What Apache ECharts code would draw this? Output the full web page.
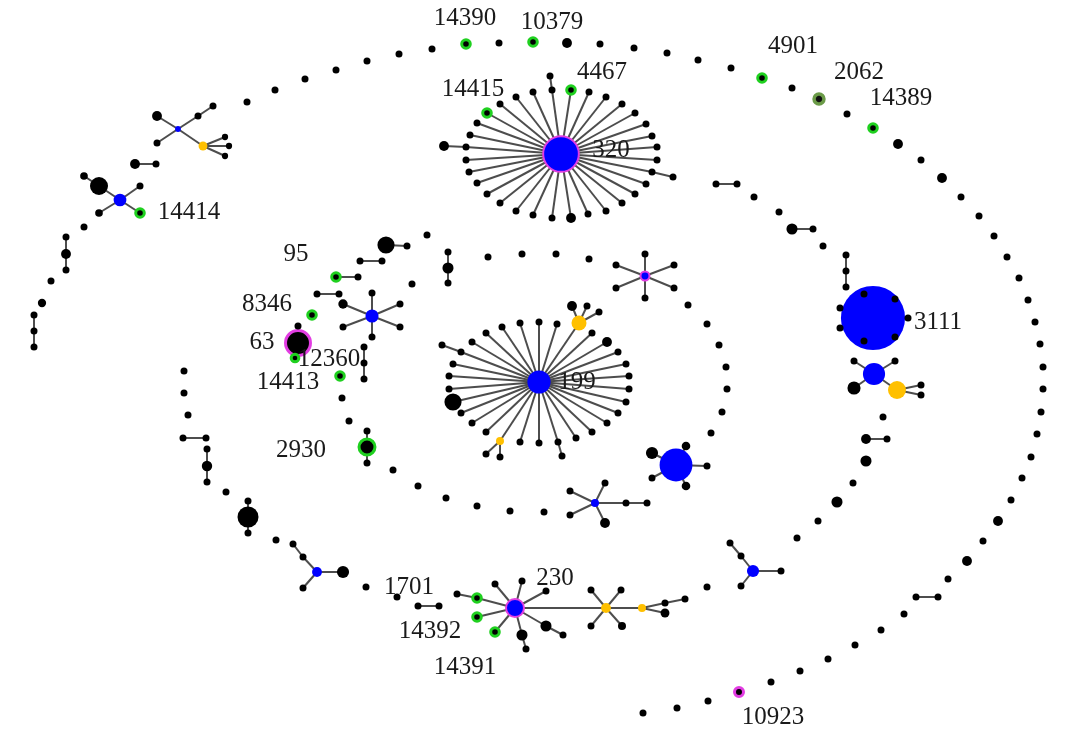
<!DOCTYPE html>
<html><head><meta charset="utf-8">
<script src="https://cdn.jsdelivr.net/npm/echarts@6/dist/echarts.min.js"></script>
<style>html,body{margin:0;padding:0;background:#fff}#c{width:1086px;height:730px}</style>
</head><body><div id="c"></div>
<script>
// Nodes: [id, x, y, weight, kind]  (kind: n=black, b=blue, y=yellow, g=green ring, o=olive ring, m=magenta ring, bm=blue+magenta ring)
const outerNodes = [
['o1',399,54,1,'n'],['o2',367,61,1,'n'],['o3',336,70,1,'n'],['o4',305,79,1,'n'],['o5',275,90,1,'n'],['o6',247,102,1,'n'],
['s1c',178,129,0.7,'b'],['s1a',157,116,2,'n'],['s1b',198,116,1,'n'],['s1b2',213,106,1,'n'],['s1d',157,143,1,'n'],['s1y',203,146,1.6,'y'],['s1e',225,137,0.8,'n'],['s1f',229,146,0.8,'n'],['s1g',225,156,0.8,'n'],
['p1a',135,164,2,'n'],['p1b',156,164,1,'n'],
['c1s',84,176,1.2,'n'],['c1k',99,186,6.6,'n'],['c1u',120,200,3.3,'b'],['c1a',140,186,1,'n'],['c1b',99,213,1.2,'n'],['n14414',140,213,1.5,'g'],
['o7',84,227,1,'n'],['q1',66,237,1,'n'],['q2',66,254,2,'n'],['q3',66,270,1,'n'],['o8',51,281,1,'n'],['o9',42,303,1.4,'n'],['q4',34,315,1,'n'],['q5',34,331,1,'n'],['q6',34,347,1,'n'],
['t1',432,49,1,'n'],['n14390',466,44,1.5,'g'],['t3',499,43,1,'n'],['n10379',533,42,1.5,'g'],['t5',567,43,2,'n'],['t6',600,44,1,'n'],['t7',634,48,1,'n'],['t8',667,53,1,'n'],['t9',698,60,1,'n'],['t10',731,68,1,'n'],['n4901',762,78,1.5,'g'],['t12',792,88,1,'n'],['n2062',819,99,2,'o'],['t14',847,114,1,'n'],['n14389',873,128,1.5,'g'],['t16',898,144,2,'n'],['t17',921,160,1,'n'],['t18',942,178,2,'n'],['t19',961,197,1,'n'],['t20',979,216,1,'n'],['t21',994,236,1,'n'],['t22',1007,257,1,'n'],['t23',1019,278,1,'n'],['t24',1028,300,1,'n'],['t25',1035,322,1,'n'],['t26',1040,344,1,'n'],['t27',1043,367,1,'n'],['t28',1043,389,1,'n'],['t29',1041,412,1,'n'],['t30',1037,434,1,'n'],['t31',1031,457,1,'n'],['t32',1022,478,1,'n'],['t33',1011,500,1,'n'],['t34',998,521,2,'n'],['t35',983,541,1,'n'],['t36',967,561,2,'n'],['t37',948,579,1,'n'],['t38',938,597,1,'n'],['t39',916,597,1,'n'],['t40',904,614,1,'n'],['t41',881,630,1,'n'],['t42',855,645,1,'n'],['t43',828,659,1,'n'],['t44',800,671,1,'n'],['t45',771,682,1,'n'],['n10923',739,692,1.65,'m'],['t47',708,701,1,'n'],['t48',677,708,1,'n'],['t49',643,713,1,'n']
];
const hub320Nodes = [
['h320',561,154,26,'bm'],
['a1',552,90,1,'n'],['a1b',550,76,1,'n'],['n4467',571,90,1.5,'g'],['a3',589,92,1,'n'],['a4',606,97,1,'n'],['a5',622,104,1,'n'],['a6',635,113,1,'n'],['a7',646,124,1,'n'],['a8',652,136,1,'n'],['a9',657,147,1,'n'],['a10',657,160,1,'n'],['a11',652,172,1,'n'],['a11b',673,177,1,'n'],['a12',646,184,1,'n'],['a13',635,194,1,'n'],['a14',622,203,1,'n'],['a15',606,211,1,'n'],['a16',588,214,1,'n'],['a17',571,218,2,'n'],['a18',552,218,1,'n'],['a19',533,215,1,'n'],['a20',516,211,1,'n'],['a21',500,203,1,'n'],['a22',487,194,1,'n'],['a23',477,183,1,'n'],['a24',469,172,1,'n'],['a25',466,160,1,'n'],['a26',466,147,1,'n'],['a26b',444,146,2,'n'],['a27',470,135,1,'n'],['a28',477,123,1,'n'],['n14415',487,113,1.5,'g'],['a30',500,104,1,'n'],['a31',516,97,1,'n'],['a32',533,92,1,'n']
];
const midNodes = [
['r1',427,235,1,'n'],['r2',386,245,6,'n'],['r3',407,246,1,'n'],['r4',360,261,1,'n'],['r5',382,261,1,'n'],['n95',336,277,1.5,'g'],['r6',358,277,1,'n'],['r7',317,294,1,'n'],['r8',339,294,1,'n'],['n8346',312,315,1.5,'g'],
['s2c',372,316,3.5,'b'],['s2a',343,304,1.8,'n'],['s2b',372,293,1,'n'],['s2d',343,327,1,'n'],['s2e',372,337,1,'n'],['s2f',400,304,1,'n'],['s2g',400,327,1,'n'],
['n63',298,343,12.7,'m'],['r9',298,326,1,'n'],['n12360',295,358,1.2,'g'],
['r10',364,347,1,'n'],['r11',364,363,1,'n'],['r12',364,379,1,'n'],
['n14413',340,376,1.5,'g'],['r13',342,398,1,'n'],['r14',349,421,1,'n'],
['n2930',367,447,5.2,'g'],['r15',367,431,1,'n'],['r16',367,463,1,'n'],['r17',393,470,1,'n'],
['l1',184,371,1,'n'],['l2',184,393,1,'n'],['l3',188,415,1,'n'],['l4',183,438,1,'n'],['l5',206,438,1,'n'],['l6',207,449,1,'n'],['l7',207,466,2.2,'n'],['l8',207,482,1,'n'],['l9',226,492,1,'n'],['l10',248,501,1,'n'],['l11',248,517,9,'n'],['l12',248,533,1,'n'],['l13',276,540,1,'n'],['l14',293,544,1,'n'],['l15',303,557,1,'n'],['l16',317,572,2,'b'],['l17',303,588,1,'n'],['l18',343,572,3,'n'],['l19',366,587,1,'n'],['l20',397,597,1,'n'],['n1701',418,606,1,'n'],['l22',439,606,1,'n'],
['h230',515,608,6.6,'bm'],['e1',495,584,1,'n'],['e2',522,581,1,'n'],['e3',546,591,1,'n'],['e4',477,598,1.5,'g'],['e5',457,594,1,'n'],['n14392',477,617,1.5,'g'],['n14391',495,632,1.5,'g'],['e8',522,635,2.5,'n'],['e9',526,649,1,'n'],['e10',546,626,2.5,'n'],['e11',563,635,1,'n'],
['y2',606,608,2,'y'],['f1',591,590,1,'n'],['f2',621,590,1,'n'],['f3',591,626,1,'n'],['f4',622,626,1.3,'n'],['y3',642,608,1.3,'y'],['f5',665,603,1,'n'],['f6',685,599,1,'n'],['f7',665,613,1.6,'n'],
['m1',707,587,1,'n'],['u1',753,571,3,'b'],['u2',730,543,1,'n'],['u3',741,556,1,'n'],['u4',741,586,1,'n'],['u5',781,571,1,'n'],
['m2',797,538,1,'n'],['m3',818,521,1,'n'],['m4',837,502,2.5,'n'],['m5',853,483,1,'n'],['m6',866,461,2.5,'n'],['m7',866,439,2,'n'],['m8',887,439,1,'n'],['m9',883,417,1,'n'],
['v1',874,374,10,'b'],['v2',854,361,1,'n'],['v3',895,361,1,'n'],['v4',854,388,3.5,'n'],['v5',897,390,6.6,'y'],['v6',921,385,1,'n'],['v7',921,395,1,'n'],
['n3111',873,318,84,'b'],['w1',864,294,1,'n'],['w2',895,299,1,'n'],['w3',840,308,1,'n'],['w4',908,318,1,'n'],['w5',840,328,1,'n'],['w6',864,341,1,'n'],['w7',895,337,1,'n'],
['k1',846,255,1,'n'],['k2',846,271,1,'n'],['k3',846,287,1,'n'],['k4',823,246,1,'n'],['k5',792,229,2.5,'n'],['k6',813,229,1,'n'],['k7',779,212,1,'n'],['k8',754,197,1,'n'],['k9',716,184,1,'n'],['k10',737,184,1,'n']
];
const innerNodes = [
['i1',448,252,1,'n'],['i2',448,268,2.5,'n'],['i3',448,283,1,'n'],['i4',412,284,1,'n'],['i5',488,257,1,'n'],['i6',522,254,1,'n'],['i7',556,254,1,'n'],['i8',589,259,1,'n'],
['s3c',645,276,1.65,'bm'],['s3a',645,254,1,'n'],['s3b',674,265,1,'n'],['s3d',674,288,1,'n'],['s3e',645,298,1,'n'],['s3f',616,288,1,'n'],['s3g',616,265,1,'n'],
['i9',688,305,1,'n'],['i10',707,324,1,'n'],['i11',719,345,1,'n'],['i12',726,367,1,'n'],['i13',727,389,1,'n'],['i14',722,412,1,'n'],['i15',711,433,1,'n'],
['b4',676,465,22,'b'],['b4a',652,453,3,'n'],['b4b',686,446,1.5,'n'],['b4c',707,466,1,'n'],['b4d',652,478,1,'n'],['b4e',686,486,1.5,'n'],
['s4c',595,503,1.3,'b'],['s4a',570,491,1,'n'],['s4b',605,483,1,'n'],['s4d',570,515,1,'n'],['s4e',605,523,2,'n'],['s4f',626,503,1,'n'],['s4g',647,503,1,'n'],
['i16',544,512,1,'n'],['i17',510,511,1,'n'],['i18',477,506,1,'n'],['i19',446,498,1,'n'],['i20',418,486,1,'n']
];
const hub199Nodes = [
['h199',539,382,11,'b'],
['b1',539,322,1,'n'],['b2',557,324,1,'n'],['b3',579,323,4.6,'y'],['b3a',572,306,2,'n'],['b3b',587,306,1,'n'],['b3c',599,312,1,'n'],['b4s',592,333,1,'n'],['b5',607,342,2,'n'],['b6',618,352,1,'n'],['b7',626,364,1,'n'],['b8',629,376,1,'n'],['b9',629,389,1,'n'],['b10',626,402,1,'n'],['b11',618,413,1,'n'],['b12',607,423,1,'n'],['b13',592,432,1,'n'],['b14',576,438,1,'n'],['b15',558,442,1,'n'],['b15b',562,456,1,'n'],['b16',539,443,1,'n'],['b17',520,442,1,'n'],['b18',500,441,1.3,'y'],['b18a',486,454,1,'n'],['b18b',500,457,1,'n'],['b19',486,432,1,'n'],['b20',472,423,1,'n'],['b21',461,413,1,'n'],['b22',453,402,6,'n'],['b23',449,389,1,'n'],['b24',449,376,1,'n'],['b25',453,364,1,'n'],['b26',461,352,1,'n'],['b26b',442,345,1,'n'],['b27',472,342,1,'n'],['b28',486,333,1,'n'],['b29',502,327,1,'n'],['b30',520,323,1,'n']
];
// hubs: centre -> neighbours
const hubs = {
  h320: ['a1','n4467','a3','a4','a5','a6','a7','a8','a9','a10','a11','a12','a13','a14','a15','a16','a17','a18','a19','a20','a21','a22','a23','a24','a25','a26','a27','a28','n14415','a30','a31','a32'],
  h199: ['b1','b2','b3','b4s','b5','b6','b7','b8','b9','b10','b11','b12','b13','b14','b15','b16','b17','b18','b19','b20','b21','b22','b23','b24','b25','b26','b27','b28','b29','b30'],
  h230: ['e1','e2','e3','e4','n14392','n14391','e8','e10','y2'],
  n3111: ['w1','w2','w3','w4','w5','w6','w7'],
  v1: ['v2','v3','v4','v5'], v5: ['v6','v7'],
  s1c: ['s1a','s1b','s1d','s1y'], s1y: ['s1e','s1f','s1g'],
  c1u: ['c1k','c1a','c1b','n14414'],
  s2c: ['s2a','s2b','s2d','s2e','s2f','s2g'],
  s3c: ['s3a','s3b','s3d','s3e','s3f','s3g'],
  s4c: ['s4a','s4b','s4d','s4e','s4f'],
  b4: ['b4a','b4b','b4c','b4d','b4e'],
  y2: ['f1','f2','f3','f4','y3'], y3: ['f5','f7'],
  u1: ['u3','u4','u5'], l16: ['l15','l17','l18'],
  b3: ['b3a','b3b','b3c'], b18: ['b18a','b18b'],
  n63: ['r9','n12360'], n2930: ['r15','r16']
};
const pairs = [
['s1b','s1b2'],['p1a','p1b'],['c1s','c1k'],['q1','q2'],['q2','q3'],['q4','q5'],['q5','q6'],['t38','t39'],
['a1','a1b'],['a11','a11b'],['a26','a26b'],
['r2','r3'],['r4','r5'],['n95','r6'],['r7','r8'],['r10','r11'],['r11','r12'],
['l4','l5'],['l6','l7'],['l7','l8'],['l10','l11'],['l11','l12'],['l14','l15'],['n1701','l22'],
['e4','e5'],['e8','e9'],['e10','e11'],['f5','f6'],['u2','u3'],['m7','m8'],
['k1','k2'],['k2','k3'],['k5','k6'],['k9','k10'],
['i1','i2'],['i2','i3'],['s4f','s4g'],['b15','b15b'],['b26','b26b']
];
const labels = {
  n14390:'14390', n10379:'10379', n4467:'4467', n14415:'14415', h320:'320', n4901:'4901', n2062:'2062', n14389:'14389',
  n14414:'14414', n95:'95', n8346:'8346', n63:'63', n12360:'12360', n14413:'14413', n2930:'2930', h199:'199', n3111:'3111',
  h230:'230', n1701:'1701', n14392:'14392', n14391:'14391', n10923:'10923'
};
// label placement (offset of label centre from node centre, px)
const labelOffset = {
  n14390:[-1,-26], n10379:[19,-20], n4467:[31,-18], n14415:[-14,-24], h320:[50,-4], n4901:[31,-32], n2062:[40,-27], n14389:[28,-30],
  n14414:[49,-1], n95:[-40,-23], n8346:[-45,-11], n63:[-36,-1], n12360:[34,1], n14413:[-52,6], n2930:[-66,3], h199:[38,0], n3111:[65,4],
  h230:[40,-30], n1701:[-9,-19], n14392:[-47,14], n14391:[-30,35], n10923:[34,25]
};
const kindStyle = {
  n:{color:'#000'}, b:{color:'#0000ff'}, y:{color:'#ffc000'},
  g:{color:'#000', borderColor:'#1fd01f', borderWidth:3},
  o:{color:'#111', borderColor:'#6b9b48', borderWidth:3.5},
  m:{color:'#000', borderColor:'#e23de2', borderWidth:3},
  bm:{color:'#0000ff', borderColor:'#e23de2', borderWidth:2}
};
const allNodes = [].concat(outerNodes, hub320Nodes, midNodes, innerNodes, hub199Nodes)
  .slice().sort((a,b)=>b[3]-a[3]);
const data = allNodes.map(([id,x,y,w,k]) => {
  const d = { name:id, value:[x,y], symbolSize: 7*Math.sqrt(w), itemStyle: kindStyle[k] };
  if (labels[id]) {
    d.label = { show:true, formatter: labels[id], position:'inside', offset: labelOffset[id],
      color:'#1a1a1a', fontFamily:'Liberation Serif', fontSize:25 };
  }
  return d;
});
const links = [];
Object.keys(hubs).forEach(h => hubs[h].forEach(t => links.push({source:h, target:t})));
pairs.forEach(([a,b]) => links.push({source:a, target:b}));

const chart = echarts.init(document.getElementById('c'), null, {renderer:'canvas'});
chart.setOption({
  animation:false,
  backgroundColor:'#fff',
  grid:{left:0,right:0,top:0,bottom:0},
  xAxis:{type:'value', min:0, max:1086, show:false},
  yAxis:{type:'value', min:0, max:730, inverse:true, show:false},
  series:[{
    type:'graph', coordinateSystem:'cartesian2d', symbol:'circle',
    data, links,
    lineStyle:{color:'#2e2e2e', width:2, opacity:0.85, curveness:0},
    label:{show:false},
    emphasis:{disabled:true}
  }]
});
</script></body></html>
